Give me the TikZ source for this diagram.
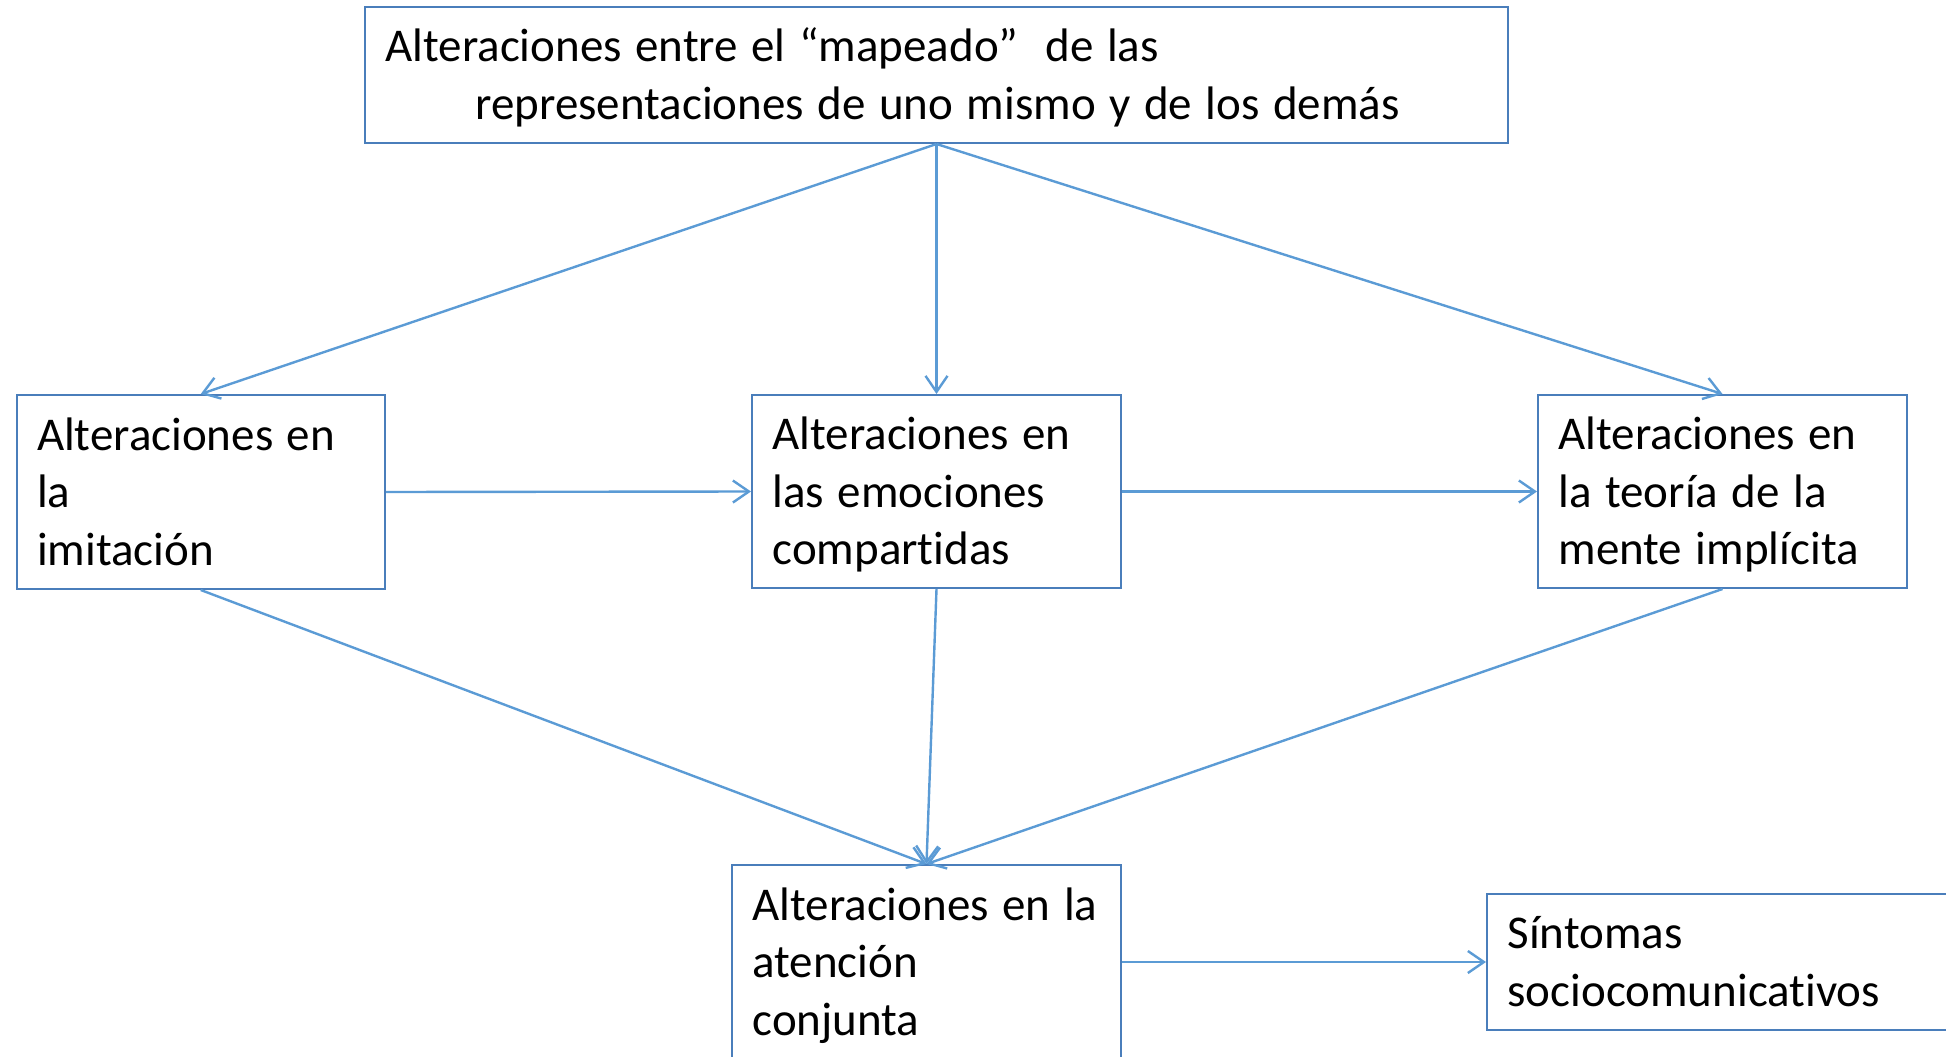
\documentclass[tikz,border=0pt]{standalone}
\usepackage{fontspec}
\setmainfont{Carlito}[RawFeature=-liga]
\usetikzlibrary{arrows.meta}
\definecolor{boxblue}{RGB}{74,126,187}
\definecolor{arrblue}{RGB}{91,155,213}
\newcommand\bst{\rule{0pt}{41pt}}
\newcommand\est{\rule[-10pt]{0pt}{10pt}}
\newcommand\boxfont{\fontsize{47}{57.5}\selectfont\spaceskip=13.5pt plus 2pt minus 1pt\relax}
\begin{document}
\begin{tikzpicture}[x=1pt,y=-1pt,
  box/.style={draw=boxblue, line width=2pt, inner xsep=20.5pt, inner ysep=0pt,
    align=left, anchor=center, font=\boxfont},
  conn/.style={draw=arrblue, line width=2.4pt, -{Straight Barb[length=16pt,width=22pt]}}]
\useasboundingbox (0,0) rectangle (1946,1057);
\node[box, minimum width=1143pt, minimum height=136pt, text width=1102pt] (top) at (936.5,75)
  {\bst\mbox{\boxfont Alteraciones entre el “mapeado”\ \ de las}\\\hspace*{90pt}\mbox{\boxfont representaciones de uno mismo y de los demás}\est};
\node[box, minimum width=368.5pt, minimum height=194pt, text width=327.5pt] (imit) at (200.75,492)
  {\bst\mbox{\boxfont Alteraciones en}\\la\\imitación\est};
\node[box, minimum width=369pt, minimum height=193pt, text width=328pt] (emo) at (936.5,491.5)
  {\bst\mbox{\boxfont Alteraciones en}\\\mbox{\boxfont las emociones}\\compartidas\est};
\node[box, minimum width=369pt, minimum height=193pt, text width=328pt] (teo) at (1722.5,491.5)
  {\bst\mbox{\boxfont Alteraciones en}\\\mbox{\boxfont la teoría de la}\\\mbox{\boxfont mente implícita}\est};
\node[box, minimum width=389pt, minimum height=240pt, text width=348pt] (aten) at (926.5,985)
  {\rule{0pt}{38pt}\mbox{\boxfont Alteraciones en la}\\atención\\conjunta\rule[-53pt]{0pt}{53pt}};
\node[box, minimum width=523pt, minimum height=136pt, text width=482pt] (sint) at (1748.5,962)
  {\bst Síntomas\\sociocomunicativos\est};
\draw[conn] (top.south) -- (imit.north);
\draw[conn] (top.south) -- (emo.north);
\draw[conn] (top.south) -- (teo.north);
\draw[conn] (imit.east) -- (emo.west);
\draw[conn] (emo.east) -- (teo.west);
\draw[conn] (imit.south) -- (aten.north);
\draw[conn] (emo.south) -- (aten.north);
\draw[conn] (teo.south) -- (aten.north);
\draw[conn] (aten.east |- sint.west) -- (sint.west);
\end{tikzpicture}
\end{document}
